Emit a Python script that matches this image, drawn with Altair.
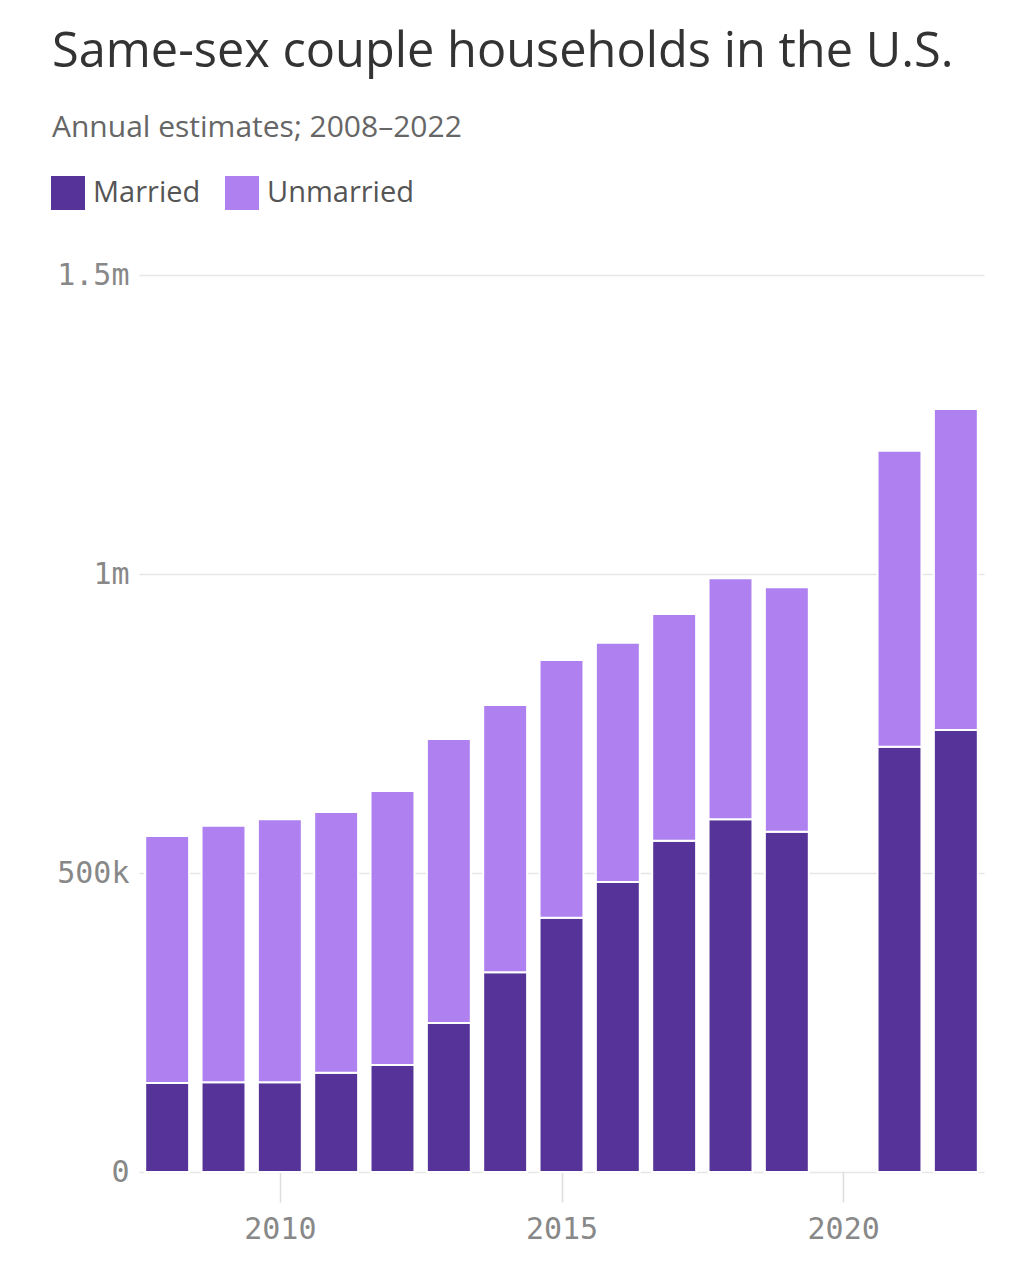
import altair as alt
import pandas as pd

years = [2008, 2009, 2010, 2011, 2012, 2013, 2014, 2015, 2016, 2017, 2018, 2019, 2021, 2022]
married = [149000, 150000, 150000, 166000, 179000, 249000, 334000, 425000, 485000, 554000, 590000, 569000, 711000, 739000]
unmarried = [413000, 429000, 440000, 436000, 458000, 475000, 447000, 431000, 400000, 379000, 403000, 409000, 495000, 537000]
series = ["Married", "Unmarried"]
colors = ["#553399", "#ae80f0"]

rows = []
for y, m, u in zip(years, married, unmarried):
    rows.append({"year": y, "type": "Married", "order": 0, "value": m})
    rows.append({"year": y, "type": "Unmarried", "order": 1, "value": u})
df = pd.DataFrame(rows)

label_expr = ("datum.value == 0 ? '0' : datum.value >= 1000000 ? "
              "format(datum.value / 1000000, '.1~f') + 'm' : format(datum.value / 1000, 'd') + 'k'")

chart = alt.Chart(df).transform_stack(
    stack="value", groupby=["year"], as_=["y0", "y1"], sort=[alt.SortField("order", "ascending")]
).transform_calculate(
    xa="datum.year - 0.39", xb="datum.year + 0.39"
).mark_bar(stroke="white", strokeWidth=2).encode(
    x=alt.X("xa:Q", title=None,
            scale=alt.Scale(domain=[2007.5, 2022.5], nice=False, zero=False),
            axis=alt.Axis(values=[2010, 2015, 2020], format="d", grid=False, domain=False,
                          ticks=True, tickSize=30, tickColor="#dddddd", tickWidth=1.5,
                          labelFont="DejaVu Sans Mono", labelFontSize=30, labelColor="#888888",
                          labelPadding=12)),
    x2="xb:Q",
    y=alt.Y("y0:Q", title=None,
            scale=alt.Scale(domain=[0, 1500000], nice=False),
            axis=alt.Axis(values=[0, 500000, 1000000, 1500000], labelExpr=label_expr,
                          grid=True, gridColor="#e6e6e6", gridWidth=1.5, domain=False, ticks=False,
                          labelFont="DejaVu Sans Mono", labelFontSize=30, labelColor="#888888",
                          labelPadding=10)),
    y2="y1:Q",
    color=alt.Color("type:N", scale=alt.Scale(domain=series, range=colors),
                    legend=alt.Legend(title=None, orient="none", legendX=-88, legendY=-99,
                                      direction="horizontal", symbolType="square", symbolSize=1156,
                                      symbolStrokeWidth=0, labelFont="Open Sans", labelFontSize=29,
                                      labelColor="#555555", columnPadding=24, labelOffset=8)),
    order=alt.Order("order:Q"),
).properties(
    width=845, height=897,
    padding={"left": 43, "top": 20, "right": 5, "bottom": 5},
    title=alt.TitleParams(
        text="Same-sex couple households in the U.S.",
        subtitle="Annual estimates; 2008–2022",
        anchor="start", frame="bounds", dx=1,
        font="Open Sans", fontSize=48.7, fontWeight="normal", color="#333333",
        subtitleFont="Open Sans", subtitleFontSize=30, subtitleColor="#666666",
        subtitlePadding=35, offset=32,
    ),
).configure_view(stroke=None)

chart.save("out.html", embed_options={"renderer": "svg", "actions": False})
